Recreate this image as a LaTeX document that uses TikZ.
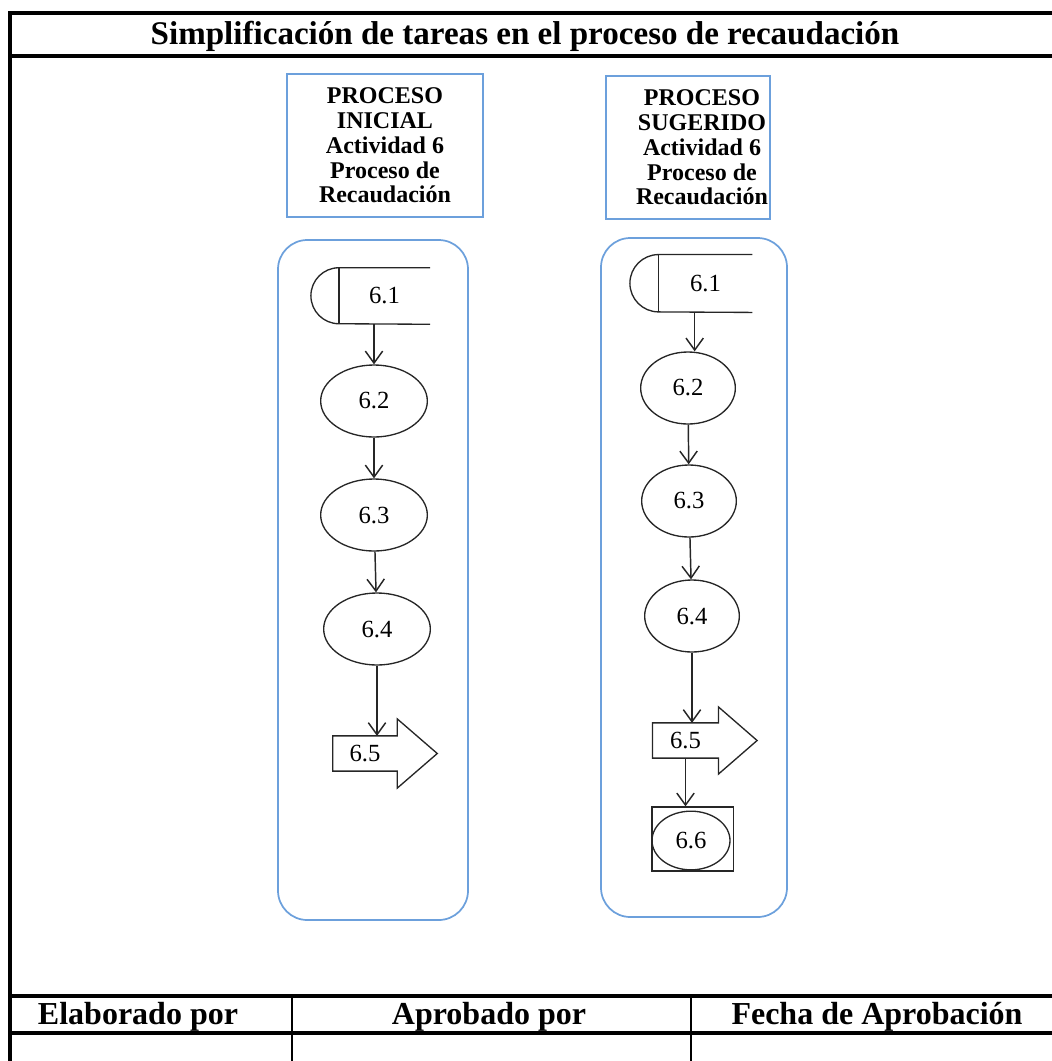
\documentclass[tikz,border=0pt]{standalone}
\usepackage{fontspec}
\setmainfont{Liberation Serif}
\usepackage{tikz}
\usetikzlibrary{arrows.meta,shapes.geometric}
\definecolor{procblue}{RGB}{108,160,220}

\begin{document}
\begin{tikzpicture}[x=0.75pt, y=-0.75pt,
  frame/.style={line width=2.3pt, black},
  hdrbox/.style={draw=procblue, line width=1.2pt, minimum width=#1, minimum height=107pt},
  hdrtext/.style={align=center, font=\fontsize{18}{18.6}\selectfont\bfseries},
  lane/.style={draw=procblue, line width=1.3pt, rounded corners=22pt},
  shp/.style={draw=black!85, line width=1pt},
  num/.style={font=\fontsize{18.5}{20}\selectfont},
  task/.style={ellipse, shp, num, minimum width=#1, minimum height=54pt, inner sep=0pt},
  flow/.style={-{Straight Barb[length=9pt,width=13pt]}, line width=1.1pt, black!85}]
\useasboundingbox (0,0) rectangle (1052,1061);

% frame and sign-off table
\draw[frame] (1052,13) -- (10,13) -- (10,1061);
\draw[frame] (10,56) -- (1052,56);
\draw[frame] (10,996) -- (1052,996);
\draw[frame] (10,1033) -- (1052,1033);
\draw[line width=1.6pt] (292,996) -- (292,1061);
\draw[line width=1.6pt] (691,996) -- (691,1061);
\node[font=\fontsize{24.8}{28}\selectfont\bfseries] (title) at (525,36) {Simplificación de tareas en el proceso de recaudación};
\node[font=\fontsize{24}{28}\selectfont\bfseries] (elab) at (138,1017) {Elaborado por};
\node[font=\fontsize{24}{28}\selectfont\bfseries] (aprob) at (489,1017) {Aprobado por};
\node[font=\fontsize{24}{28}\selectfont\bfseries] (fecha) at (877,1017) {Fecha de Aprobación};

% headers
\node[hdrbox=147pt, hdrtext] (hini) at (385,145.5) {PROCESO\\INICIAL\\Actividad 6\\Proceso de\\Recaudación};
\node[hdrbox=123pt] (hsug) at (688,147.5) {};
\node[hdrtext] (hsugtxt) at (702,147.5) {PROCESO\\SUGERIDO\\Actividad 6\\Proceso de\\Recaudación};

% lanes
\draw[lane] (278,240) rectangle (468,920);
\draw[lane] (601,238) rectangle (787,917);

% initial process
\node[num, minimum width=68pt, minimum height=42pt, inner sep=0pt] (a61) at (384.5,296) {6.1};
\draw[shp] (a61.north east) -- (a61.north west) arc[start angle=90, end angle=270, radius=21pt] -- (a61.south east);
\draw[shp] (a61.north west) -- (a61.south west);
\node[task=80pt] (a62) at (374,401) {6.2};
\node[task=80pt] (a63) at (374,515) {6.3};
\node[task=80pt] (a64) at (377,629) {6.4};
\node[num, minimum width=48pt, minimum height=26pt, inner sep=0pt] (a65) at (365,753.5) {6.5};
\draw[shp] (a65.north west) -- (a65.north east) -- ++(0pt,12.75pt) -- ([xshift=30pt]a65.east)
  -- ([yshift=-12.75pt]a65.south east) -- (a65.south east) -- (a65.south west) -- cycle;

\draw[flow] (a62 |- a61.south) -- (a62);
\draw[flow] (a62) -- (a63);
\draw[flow] (a63) -- (a64);
\draw[flow] (a64.south) -- (a64.south |- a65.north);

% suggested process
\node[num, minimum width=70pt, minimum height=43pt, inner sep=0pt] (b61) at (705.5,283.5) {6.1};
\draw[shp] (b61.north east) -- (b61.north west) arc[start angle=90, end angle=270, radius=21.5pt] -- (b61.south east);
\draw[shp] (b61.north west) -- (b61.south west);
\node[task=71pt] (b62) at (688,388) {6.2};
\node[task=71pt] (b63) at (689,501) {6.3};
\node[task=71pt] (b64) at (692,616) {6.4};
\node[num, minimum width=49pt, minimum height=26pt, inner sep=0pt] (b65) at (685.5,740.5) {6.5};
\draw[shp] (b65.north west) -- (b65.north east) -- ++(0pt,12pt) -- ([xshift=29pt]b65.east)
  -- ([yshift=-12pt]b65.south east) -- (b65.south east) -- (b65.south west) -- cycle;
\node[shp, minimum width=61pt, minimum height=48pt, inner sep=0pt] (b66box) at (692.5,839) {};
\node[task=58.5pt, minimum height=44pt] (b66) at (691,840.5) {6.6};

\draw[flow] ([xshift=5pt]b62 |- b61.south) -- ([xshift=5pt]b62.north);
\draw[flow] (b62) -- (b63);
\draw[flow] (b63) -- (b64);
\draw[flow] (b64.south) -- (b64.south |- b65.north);
\draw[flow] (b65.south) -- (b65.south |- b66box.north);
\end{tikzpicture}
\end{document}
